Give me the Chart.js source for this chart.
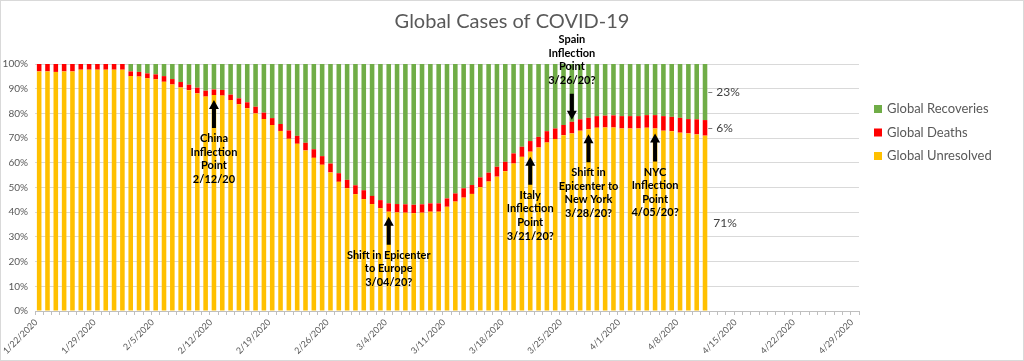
<!DOCTYPE html>
<html>
<head>
<meta charset="utf-8">
<script src="https://cdn.jsdelivr.net/npm/chart.js@4.4.1/dist/chart.umd.min.js"></script>
<style>
  html, body { margin: 0; padding: 0; background: #fff; }
  #wrap { width: 1024px; height: 361px; position: relative; }
</style>
</head>
<body>
<div id="wrap"><canvas id="chart"></canvas></div>
<script>
// x axis runs 1/22/2020 .. 4/29/2020, data stops at 4/11
const dates = [];
for (let i = 0; i < 99; i++) {
  const d = new Date(2020, 0, 22 + i);
  dates.push(`${d.getMonth() + 1}/${d.getDate()}/${d.getFullYear()}`);
}

const title = "Global Cases of COVID-19";

// share of global cases, in %
const unresolved = [
  97.0, 97.0, 96.8, 97.0, 97.0, 97.7, 97.7, 97.7, 97.7, 97.7, 97.7,
  95.1, 94.9, 94.2, 93.8, 92.8, 91.7, 90.5, 89.4, 88.1, 86.8,
  87.4, 87.2, 85.4, 83.7, 82.1, 80.0, 77.7, 75.3, 72.9, 69.7,
  67.7, 65.0, 62.0, 59.2, 56.1, 52.3, 49.7, 47.3, 45.3, 43.3,
  41.6, 40.2, 39.9, 39.8, 39.6, 39.8, 40.2, 40.2, 42.2, 44.3,
  45.9, 47.4, 50.1, 52.4, 54.4, 56.6, 59.7, 62.4, 64.5, 66.2,
  68.2, 69.6, 71.2, 71.9, 73.0, 73.6, 74.2, 74.3, 74.3, 73.9,
  73.9, 73.9, 74.2, 73.9, 73.0, 72.8, 72.2, 71.9, 71.5, 71.0,
];
const deaths = [
  3.0, 3.0, 3.2, 3.0, 3.0, 2.3, 2.3, 2.3, 2.3, 2.3, 2.3,
  1.9, 1.9, 2.0, 2.0, 2.3, 2.2, 2.2, 2.2, 2.3, 2.4,
  2.3, 2.3, 2.2, 2.4, 2.4, 2.7, 2.6, 2.8, 2.8, 3.4,
  3.2, 3.1, 3.5, 3.5, 3.6, 3.5, 3.4, 3.6, 3.6, 3.3,
  3.3, 3.4, 3.4, 3.4, 3.4, 3.4, 3.4, 3.4, 3.4, 3.3,
  3.8, 3.6, 4.0, 3.6, 4.0, 3.8, 4.1, 4.1, 4.3, 4.3,
  4.6, 4.3, 4.1, 4.7, 4.6, 4.6, 4.7, 4.8, 4.9, 5.0,
  5.0, 5.0, 5.1, 5.4, 5.9, 5.8, 6.0, 5.8, 6.1, 6.3,
];
const recoveries = [
  0, 0, 0, 0, 0, 0, 0, 0, 0, 0, 0,
  3.0, 3.2, 3.8, 4.2, 4.9, 6.1, 7.3, 8.4, 9.6, 10.8,
  10.3, 10.5, 12.4, 13.9, 15.5, 17.3, 19.7, 21.9, 24.3, 26.9,
  29.1, 31.9, 34.5, 37.3, 40.3, 44.2, 46.9, 49.1, 51.1, 53.4,
  55.1, 56.4, 56.7, 56.8, 57.0, 56.8, 56.4, 56.4, 54.4, 52.4,
  50.3, 49.0, 45.9, 44.0, 41.6, 39.6, 36.2, 33.5, 31.2, 29.5,
  27.2, 26.1, 24.7, 23.4, 22.4, 21.8, 21.1, 20.9, 20.8, 21.1,
  21.1, 21.1, 20.7, 20.7, 21.1, 21.4, 21.8, 22.3, 22.4, 22.7,
];

const notes = [
  { date: "2/12/2020", dir: "up", lines: ["China", "Inflection", "Point", "2/12/20"] },
  { date: "3/4/2020", dir: "up", lines: ["Shift in Epicenter", "to Europe", "3/04/20?"] },
  { date: "3/21/2020", dir: "up", lines: ["Italy", "Inflection", "Point", "3/21/20?"] },
  { date: "3/26/2020", dir: "down", lines: ["Spain", "Inflection", "Point", "3/26/20?"] },
  { date: "3/28/2020", dir: "up", lines: ["Shift in", "Epicenter to", "New York", "3/28/20?"] },
  { date: "4/5/2020", dir: "up", lines: ["NYC", "Inflection", "Point", "4/05/20?"] },
];

Chart.defaults.font.family = "Lato, 'Open Sans', sans-serif";
Chart.defaults.color = "#595959";

function drawArrow(ctx, x, tipY, tailY) {
  const dir = tailY > tipY ? 1 : -1;
  const head = 9;
  ctx.beginPath();
  ctx.moveTo(x, tipY);
  ctx.lineTo(x + 5, tipY + dir * head);
  ctx.lineTo(x + 2, tipY + dir * head);
  ctx.lineTo(x + 2, tailY);
  ctx.lineTo(x - 2, tailY);
  ctx.lineTo(x - 2, tipY + dir * head);
  ctx.lineTo(x - 5, tipY + dir * head);
  ctx.closePath();
  ctx.fillStyle = "#000";
  ctx.fill();
}

const extras = {
  id: "extras",
  beforeDraw(chart) {
    const ctx = chart.ctx;
    ctx.save();
    ctx.fillStyle = "#fff";
    ctx.fillRect(0, 0, chart.width, chart.height);
    ctx.strokeStyle = "#d9d9d9";
    ctx.lineWidth = 1;
    ctx.strokeRect(0.5, 0.5, chart.width - 1, chart.height - 1);
    // title is centred on the whole picture, not on the plot
    ctx.font = "20px Lato, sans-serif";
    ctx.fillStyle = "#595959";
    ctx.textAlign = "center";
    ctx.textBaseline = "middle";
    ctx.fillText(title, chart.width / 2, 22);
    ctx.restore();
  },
  afterDatasetsDraw(chart) {
    const ctx = chart.ctx;
    const yellow = chart.getDatasetMeta(0).data;
    const red = chart.getDatasetMeta(1).data;
    const green = chart.getDatasetMeta(2).data;
    ctx.save();

    // annotations with arrows
    ctx.font = "bold 11px Lato, sans-serif";
    ctx.textAlign = "center";
    ctx.textBaseline = "middle";
    const lh = 13.6;
    notes.forEach((n) => {
      const i = dates.indexOf(n.date);
      const x = yellow[i].x;
      if (n.dir === "up") {
        const tip = yellow[i].y + 5;
        const tail = tip + 28;
        drawArrow(ctx, x, tip, tail);
        ctx.fillStyle = "#000";
        n.lines.forEach((t, k) => ctx.fillText(t, x, tail + 10.5 + k * lh));
      } else {
        const tip = red[i].y - 2;
        const tail = tip - 26;
        drawArrow(ctx, x, tip, tail);
        ctx.fillStyle = "#000";
        const last = n.lines.length - 1;
        n.lines.forEach((t, k) => ctx.fillText(t, x, tail - 13.3 - (last - k) * lh));
      }
    });

    // labels next to the last bar
    const li = unresolved.length - 1;
    const segs = [
      { el: green[li], v: recoveries[li], lead: true },
      { el: red[li], v: deaths[li], lead: true },
      { el: yellow[li], v: unresolved[li], lead: false },
    ];
    ctx.font = "12px Lato, sans-serif";
    ctx.textAlign = "left";
    ctx.fillStyle = "#404040";
    ctx.strokeStyle = "#7f7f7f";
    ctx.lineWidth = 1;
    segs.forEach((s) => {
      const right = s.el.x + s.el.width / 2;
      const cy = (s.el.y + s.el.base) / 2;
      if (s.lead) {
        ctx.beginPath();
        ctx.moveTo(right + 1, Math.round(cy) + 0.5);
        ctx.lineTo(right + 5, Math.round(cy) + 0.5);
        ctx.stroke();
        ctx.fillText(Math.round(s.v) + "%", right + 9, cy);
      } else {
        ctx.fillText(Math.round(s.v) + "%", right + 6, cy);
      }
    });

    // legend, top item is the top of the stack
    const items = chart.data.datasets.slice().reverse();
    ctx.font = "13px Lato, sans-serif";
    items.forEach((ds, k) => {
      const y = 109 + k * 23.5;
      ctx.fillStyle = ds.backgroundColor;
      ctx.fillRect(874, y - 4, 8, 8);
      ctx.fillStyle = "#595959";
      ctx.fillText(ds.label, 887, y);
    });
    ctx.restore();
  },
};

new Chart(document.getElementById("chart"), {
  type: "bar",
  data: {
    labels: dates,
    datasets: [
      { label: "Global Unresolved", data: unresolved, backgroundColor: "#ffc000" },
      { label: "Global Deaths", data: deaths, backgroundColor: "#ff0000" },
      { label: "Global Recoveries", data: recoveries, backgroundColor: "#70ad47" },
    ],
  },
  options: {
    responsive: true,
    maintainAspectRatio: false,
    animation: false,
    layout: { padding: { top: 64, left: 0, right: 165, bottom: 0 } },
    datasets: { bar: { barPercentage: 0.55, categoryPercentage: 1 } },
    plugins: {
      legend: { display: false },
      tooltip: { enabled: false },
      title: { display: false },
    },
    scales: {
      x: {
        stacked: true,
        afterFit: (s) => { s.height = 50; },
        grid: { drawOnChartArea: false, drawTicks: true, tickLength: 4, color: "#bfbfbf" },
        border: { color: "#bfbfbf" },
        ticks: {
          autoSkip: false,
          minRotation: 45,
          maxRotation: 45,
          labelOffset: -3,
          padding: 2,
          font: { size: 9 },
          color: "#595959",
          callback: (v, i) => (i % 7 === 0 ? dates[i] : ""),
        },
      },
      y: {
        stacked: true,
        min: 0,
        max: 100,
        afterFit: (s) => { s.width = 35; },
        grid: { color: "#d9d9d9", drawTicks: false },
        border: { display: false },
        ticks: {
          stepSize: 10,
          padding: 7,
          font: { size: 10 },
          color: "#595959",
          callback: (v) => v + "%",
        },
      },
    },
  },
  plugins: [extras],
});
</script>
</body>
</html>
